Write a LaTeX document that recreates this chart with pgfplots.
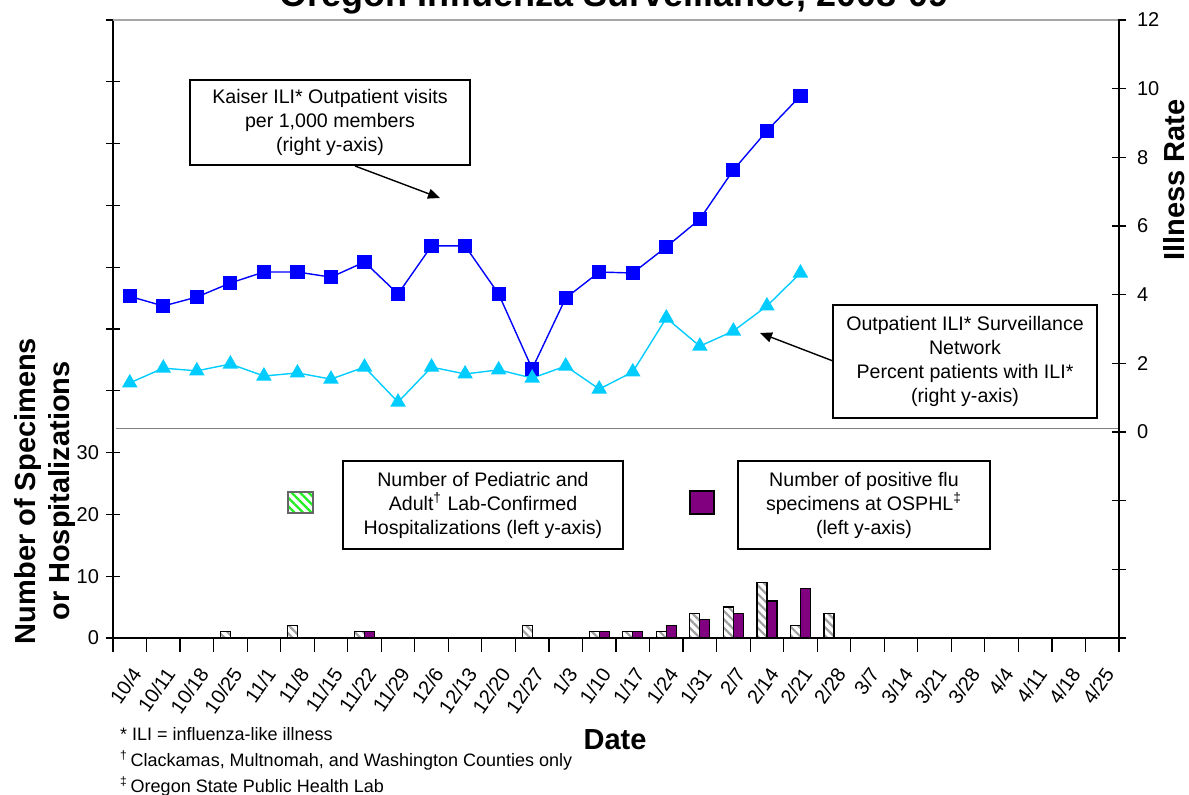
\documentclass[border=0pt]{standalone}
\usepackage{fontspec}
\setmainfont{Liberation Sans}
\usepackage{pgfplots}
\pgfplotsset{compat=1.18}
\usetikzlibrary{patterns.meta,arrows.meta}

\definecolor{kaiser}{HTML}{0000FF}
\definecolor{outpt}{HTML}{00CCFF}
\definecolor{osphl}{HTML}{800080}
\definecolor{hatchgray}{HTML}{A0A0A0}
\definecolor{hatchgreen}{HTML}{22EE22}

\pgfplotsset{
  base/.style={
    scale only axis, width=503pt, height=309pt,
    at={(56.5pt,-319pt)}, anchor=south west,
    xmin=-0.5, xmax=29.5,
    /pgf/number format/assume math mode=true,
    tick label style={font=\fontsize{10}{12}\selectfont},
    tick align=center,
    major tick length=7pt, minor tick length=7pt,
    tick style={black, line width=0.6pt},
    axis line style={black, line width=0.8pt},
  },
}

\begin{document}
\begin{tikzpicture}[font=\fontsize{9.8}{12}\selectfont]
\useasboundingbox (0,0) rectangle (594.5pt,-397.5pt);

% left axis: bars
\begin{axis}[base,
    axis x line*=bottom, axis y line*=left,
    ymin=0, ymax=100,
    ytick={0,10,20,30}, minor ytick={40,50,...,100},
    xtick={0,...,29},
    xticklabels={10/4,10/11,10/18,10/25,11/1,11/8,11/15,11/22,11/29,12/6,12/13,12/20,12/27,1/3,1/10,1/17,1/24,1/31,2/7,2/14,2/21,2/28,3/7,3/14,3/21,3/28,4/4,4/11,4/18,4/25},
    major x tick style={draw=none},
    minor xtick={-0.5,0.5,...,29.5},
    % shifts are in the rotated frame
    xticklabel style={rotate=55, anchor=east, xshift=-1.8pt, yshift=-8pt},
    ybar=0pt, bar width=5pt,
]
\addplot[draw=black, line width=0.6pt,
  pattern={Lines[angle=-45,distance=3pt,line width=1.1pt]}, pattern color=hatchgray]
  coordinates {(3,1) (5,2) (7,1) (12,2) (14,1) (15,1) (16,1) (17,4) (18,5) (19,9) (20,2) (21,4)};
\addplot[draw=black, line width=0.6pt, fill=osphl]
  coordinates {(7,1) (14,1) (15,1) (16,2) (17,3) (18,4) (19,6) (20,8)};
\end{axis}

% right axis: illness rates
\begin{axis}[base,
    axis y line*=right, axis x line=none,
    ymin=-6, ymax=12,
    ytick={0,2,...,12}, minor ytick={-6,-4,-2},
    yticklabel style={xshift=2pt},
]
\addplot[kaiser, line width=0.7pt, mark=square*, mark size=3.2pt]
  coordinates {(0,3.95) (1,3.67) (2,3.93) (3,4.34) (4,4.66) (5,4.66) (6,4.51) (7,4.95)
    (8,4.02) (9,5.42) (10,5.42) (11,4.02) (12,1.84) (13,3.90) (14,4.66) (15,4.63)
    (16,5.39) (17,6.20) (18,7.63) (19,8.77) (20,9.79)};
\addplot[outpt, line width=0.7pt, mark=triangle*, mark size=3.8pt]
  coordinates {(0,1.43) (1,1.86) (2,1.78) (3,1.98) (4,1.63) (5,1.72) (6,1.54) (7,1.89)
    (8,0.87) (9,1.89) (10,1.69) (11,1.81) (12,1.57) (13,1.92) (14,1.25) (15,1.75)
    (16,3.32) (17,2.50) (18,2.94) (19,3.67) (20,4.63)};
\end{axis}

\begin{scope}[x=0.5pt, y=-0.5pt]
% frame lines
\draw[gray!70, line width=0.6pt] (113,20) -- (1118,20);
\draw[gray, line width=0.5pt] (116,429) -- (1118,429);

% title (top is cut by the page)
\node[anchor=base, font=\bfseries\fontsize{18}{20}\selectfont] at (614,7)
  {Oregon Influenza Surveillance, 2008-09};

% axis labels
\node[rotate=90, align=center, font=\bfseries\fontsize{14.5}{17}\selectfont] at (45,491)
  {Number of Specimens\\or Hospitalizations};
\node[rotate=90, font=\bfseries\fontsize{14.5}{17}\selectfont] at (1174,180) {Illness Rate};
\node[font=\bfseries\fontsize{14.5}{17}\selectfont] at (615,740) {Date};

% callouts
\draw[line width=0.7pt, fill=white] (190,80) rectangle (470,165);
\node[align=center] at (330,122.5) {Kaiser ILI* Outpatient visits\\per 1,000 members\\(right y-axis)};
\draw[line width=0.7pt, -{Triangle[length=6pt,width=5pt]}] (355,166) -- (440,198);

\draw[line width=0.7pt, fill=white] (833,305) rectangle (1097,418);
\node[align=center] at (965,361.5) {Outpatient ILI* Surveillance\\Network\\Percent patients with ILI*\\(right y-axis)};
\draw[line width=0.7pt, -{Triangle[length=6pt,width=5pt]}] (833,361) -- (760,333);

% bar legends
\path[pattern={Lines[angle=-45,distance=3pt,line width=1.2pt]}, pattern color=hatchgreen] (288,492) rectangle (313,513);
\draw[gray!80!black, line width=0.6pt] (288,492) rectangle (313,513);
\draw[line width=0.7pt] (343,461) rectangle (623,549);
\node[align=center] at (483,505) {Number of Pediatric and\\Adult\textsuperscript{†} Lab-Confirmed\\Hospitalizations (left y-axis)};

\draw[line width=0.6pt, fill=osphl] (690,491) rectangle (714,514);
\draw[line width=0.7pt] (738,461) rectangle (990,549);
\node[align=center] at (864,505) {Number of positive flu\\specimens at OSPHL\textsuperscript{‡}\\(left y-axis)};

% footnotes
\node[anchor=base west, font=\fontsize{9}{10}\selectfont] at (113,741) {* ILI = influenza-like illness};
\node[anchor=base west, font=\fontsize{9}{10}\selectfont] at (113,767) {\textsuperscript{†}\,Clackamas, Multnomah, and Washington Counties only};
\node[anchor=base west, font=\fontsize{9}{10}\selectfont] at (113,793) {\textsuperscript{‡}\,Oregon State Public Health Lab};
\end{scope}
\end{tikzpicture}
\end{document}
